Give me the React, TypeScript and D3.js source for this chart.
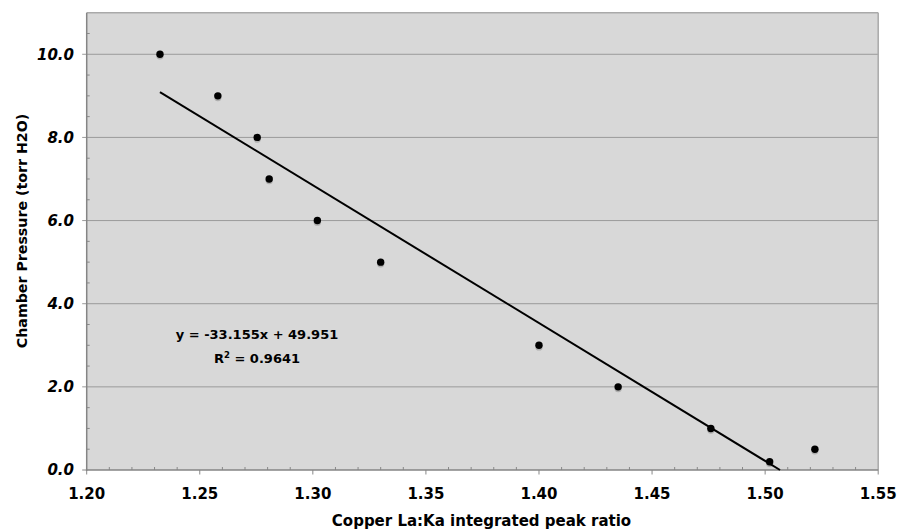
import React from "react";
import * as d3 from "d3";

const ratios = [1.2324, 1.258, 1.2754, 1.2807, 1.302, 1.330, 1.400, 1.435, 1.476, 1.502, 1.522];
const pressures = [10.0, 9.0, 8.0, 7.0, 6.0, 5.0, 3.0, 2.0, 1.0, 0.2, 0.5];
const slope = -33.155;
const intercept = 49.951;
const xTicks = [1.2, 1.25, 1.3, 1.35, 1.4, 1.45, 1.5, 1.55];
const yTicks = [0, 2, 4, 6, 8, 10];
const eqLine1 = "y = -33.155x + 49.951";
const r2Value = "0.9641";
const xTitle = "Copper La:Ka integrated peak ratio";
const yTitle = "Chamber Pressure (torr H2O)";

const W = 898, H = 531;
const left = 86.7, right = 878.2, top = 12.7, bottom = 470;
const font = "'DejaVu Sans', Verdana, sans-serif";

export default function App() {
  const x = d3.scaleLinear().domain([1.2, 1.55]).range([left, right]);
  const y = d3.scaleLinear().domain([0, 11]).range([bottom, top]);
  const xMinor = d3.range(120, 156).map((v) => v / 100).filter((v) => !xTicks.some((t) => Math.abs(t - v) < 1e-9));
  const yMinor = d3.range(0, 23).map((v) => v / 2).filter((v) => !yTicks.includes(v) && v > 0 && v < 11);
  const x0 = ratios[0];
  const x1 = -intercept / slope;
  const line = d3.line<[number, number]>().x((d) => x(d[0])).y((d) => y(d[1]));
  const trend: [number, number][] = [[x0, slope * x0 + intercept], [x1, slope * x1 + intercept]];
  return (
    <svg width={W} height={H} style={{ position: "absolute", left: 0, top: 0, background: "#fff" }}>
      <rect x={left} y={top} width={right - left} height={bottom - top} fill="#d8d8d8" />
      {yTicks.filter((t) => t > 0).map((t) => (
        <line key={"g" + t} x1={left - 4.5} x2={right} y1={y(t)} y2={y(t)} stroke="#9a9a9a" strokeWidth={1} />
      ))}
      <line x1={left} x2={right} y1={top} y2={top} stroke="#a9a9a9" strokeWidth={1.5} />
      <line x1={right} x2={right} y1={top} y2={bottom} stroke="#a9a9a9" strokeWidth={1.5} />
      {xMinor.map((t) => (
        <line key={"xm" + t} x1={x(t)} x2={x(t)} y1={bottom} y2={bottom - 3} stroke="#888" strokeWidth={1} />
      ))}
      {yMinor.map((t) => (
        <line key={"ym" + t} x1={left} x2={left + 3} y1={y(t)} y2={y(t)} stroke="#888" strokeWidth={1} />
      ))}
      {xTicks.map((t) => (
        <line key={"xt" + t} x1={x(t)} x2={x(t)} y1={bottom} y2={bottom + 4.5} stroke="#888" strokeWidth={1} />
      ))}
      <line x1={left} x2={left - 4.5} y1={bottom} y2={bottom} stroke="#888" strokeWidth={1} />
      <line x1={left} x2={left} y1={top} y2={bottom + 0.75} stroke="#858585" strokeWidth={1.5} />
      <line x1={left - 0.75} x2={right} y1={bottom} y2={bottom} stroke="#858585" strokeWidth={1.5} />
      {ratios.map((r, i) => (
        <circle key={"s" + i} cx={x(r)} cy={y(pressures[i]) + 1.6} r={3.7} fill="#9c9c9c" opacity={0.7} />
      ))}
      <path d={line(trend) || ""} fill="none" stroke="#000" strokeWidth={2} />
      {ratios.map((r, i) => (
        <circle key={"p" + i} cx={x(r)} cy={y(pressures[i])} r={3.7} fill="#000" />
      ))}
      {xTicks.map((t) => (
        <text key={"xl" + t} x={x(t)} y={499} textAnchor="middle" fontFamily={font} fontWeight="bold" fontSize={15} fill="#000">
          {t.toFixed(2)}
        </text>
      ))}
      {yTicks.map((t) => (
        <text key={"yl" + t} x={74} y={y(t)} dy="0.36em" textAnchor="end" fontFamily={font} fontWeight="bold" fontStyle="italic" fontSize={15} fill="#000">
          {t.toFixed(1)}
        </text>
      ))}
      <text x={481.5} y={526} textAnchor="middle" fontFamily={font} fontWeight="bold" fontSize={15} fill="#000">
        {xTitle}
      </text>
      <text transform={`translate(27,231) rotate(-90)`} textAnchor="middle" fontFamily={font} fontWeight="bold" fontSize={14.2} fill="#000">
        {yTitle}
      </text>
      <text x={257} y={339} textAnchor="middle" fontFamily={font} fontWeight="bold" fontSize={13} fill="#000">
        {eqLine1}
      </text>
      <text x={257} y={362.5} textAnchor="middle" fontFamily={font} fontWeight="bold" fontSize={13} fill="#000">
        R<tspan dy={-5} fontSize={8.5}>2</tspan><tspan dy={5}> = {r2Value}</tspan>
      </text>
    </svg>
  );
}
